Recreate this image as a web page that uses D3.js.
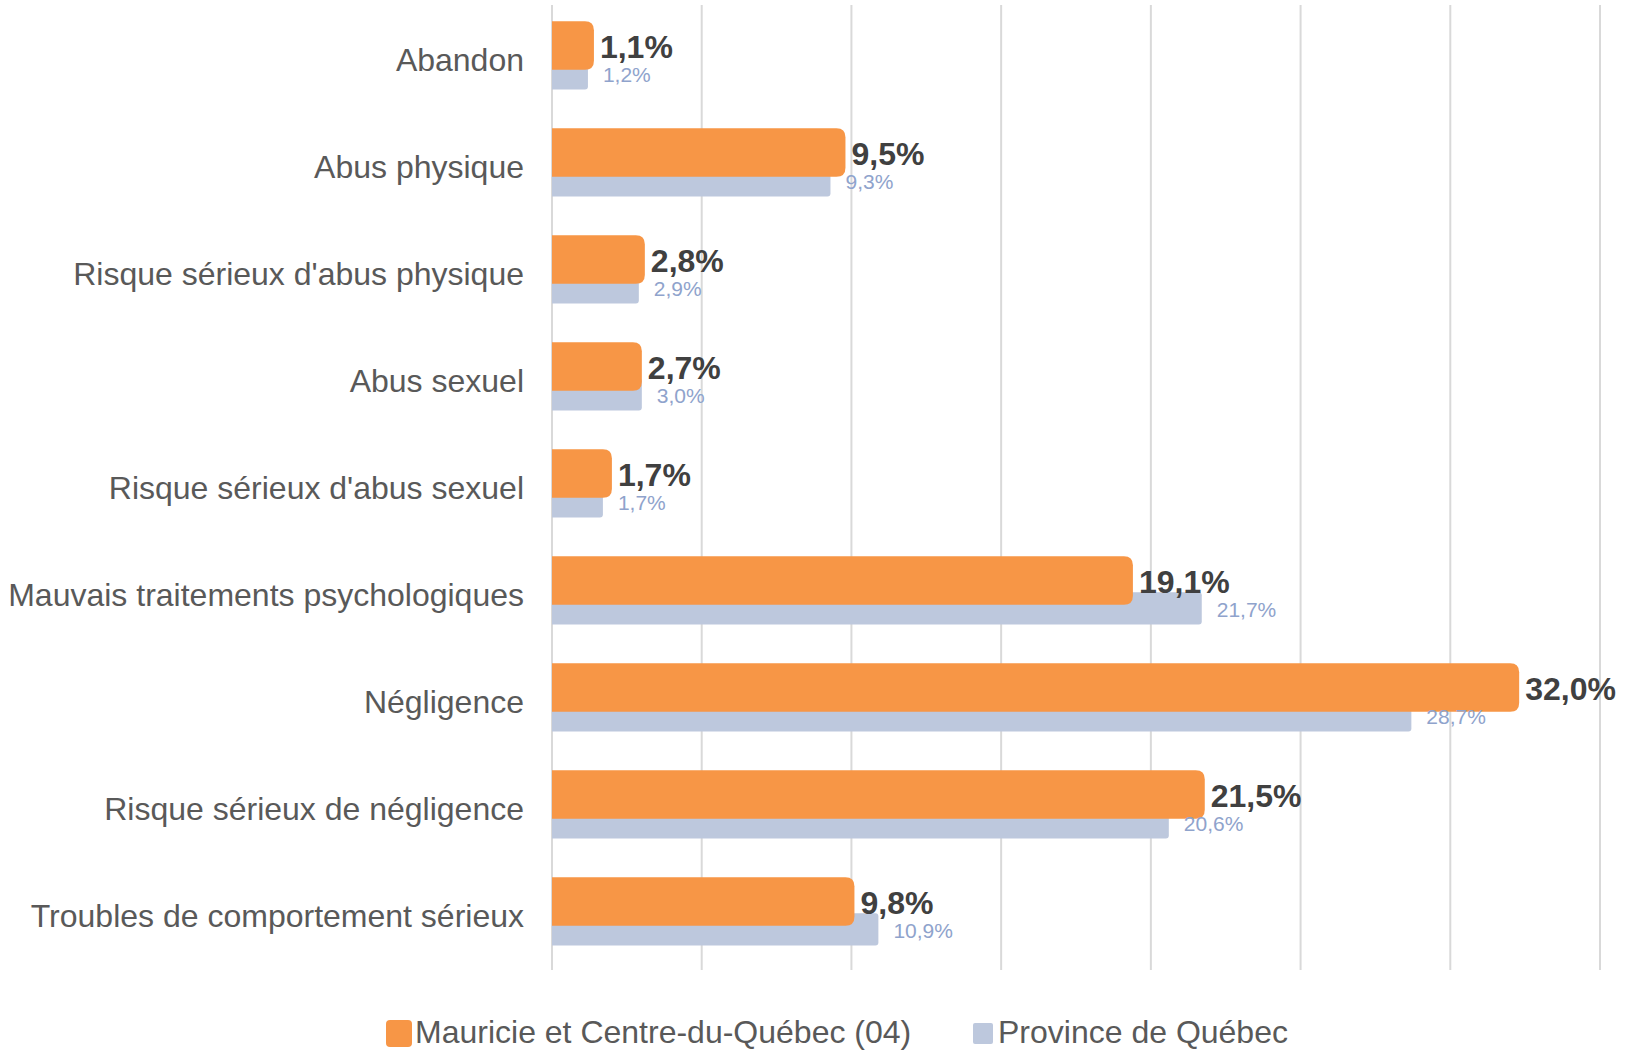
<!doctype html>
<html lang="fr">
<head>
    <meta charset="utf-8">
    <title>Motifs de rétention</title>
    <style>
        body { margin: 0; background: #ffffff; }
        svg { display: block; font-family: "Liberation Sans", Arial, sans-serif; }
    </style>
</head>
<body>
<svg width="1627" height="1050" id="chart"></svg>

<script src="https://cdn.jsdelivr.net/npm/d3@7"></script>
<script>
    const categories = [
        "Abandon",
        "Abus physique",
        "Risque sérieux d'abus physique",
        "Abus sexuel",
        "Risque sérieux d'abus sexuel",
        "Mauvais traitements psychologiques",
        "Négligence",
        "Risque sérieux de négligence",
        "Troubles de comportement sérieux"
    ];
    const mauricieValues = [1.1, 9.5, 2.8, 2.7, 1.7, 19.1, 32.0, 21.5, 9.8];
    const quebecValues = [1.2, 9.3, 2.9, 3.0, 1.7, 21.7, 28.7, 20.6, 10.9];
    const seriesNames = ["Mauricie et Centre-du-Québec (04)", "Province de Québec"];
    const xMax = 35;

    const orange = "#F79646";
    const grey = "#BDC8DD";
    const greyText = "#8FA3CC";
    const ORANGE_EDGE = 9; // the orange shape sticks out a bit past its value

    const svg = d3.select("#chart");
    const margin = {top: 6, right: 27, bottom: 81, left: 552};
    const width = +svg.attr("width") - margin.left - margin.right;
    const height = +svg.attr("height") - margin.top - margin.bottom;

    const x = d3.scaleLinear()
        .domain([0, xMax])
        .range([margin.left, margin.left + width]);

    const y = d3.scaleBand()
        .domain(categories)
        .range([margin.top, margin.top + height]);

    const bw = y.bandwidth();

    // bar with rounded right corners only
    function rightRounded(x0, y0, w, h, r) {
        r = Math.min(r, w, h / 2);
        return "M" + x0 + "," + y0 +
            "H" + (x0 + w - r) +
            "Q" + (x0 + w) + "," + y0 + " " + (x0 + w) + "," + (y0 + r) +
            "V" + (y0 + h - r) +
            "Q" + (x0 + w) + "," + (y0 + h) + " " + (x0 + w - r) + "," + (y0 + h) +
            "H" + x0 + "Z";
    }

    // grid lines
    svg.append("g")
        .selectAll("line")
        .data(x.ticks(7))
        .enter().append("line")
        .attr("x1", d => x(d))
        .attr("x2", d => x(d))
        .attr("y1", margin.top - 1)
        .attr("y2", margin.top + height + 1)
        .style("stroke", "#D9D9D9")
        .style("stroke-width", 2);

    // category labels
    svg.append("g")
        .selectAll("text")
        .data(categories)
        .enter().append("text")
        .attr("x", margin.left - 28)
        .attr("y", d => y(d) + bw / 2)
        .attr("dy", "0.35em")
        .style("text-anchor", "end")
        .style("font-size", "32px")
        .style("fill", "#595959")
        .text(d => d);

    const greyTop = 0.48 * bw, greyH = 0.30 * bw;
    const orangeTop = 0.142 * bw, orangeH = 0.454 * bw;

    // Province de Québec bars (behind)
    svg.append("g")
        .selectAll("path")
        .data(quebecValues)
        .enter().append("path")
        .attr("d", (d, i) => rightRounded(x(0), y(categories[i]) + greyTop, x(d) - x(0), greyH, 3))
        .style("fill", grey);

    // Mauricie bars (front)
    svg.append("g")
        .selectAll("path")
        .data(mauricieValues)
        .enter().append("path")
        .attr("d", (d, i) => rightRounded(x(0), y(categories[i]) + orangeTop, x(d) - x(0) + ORANGE_EDGE, orangeH, 9))
        .style("fill", orange);

    const fmt = v => v.toFixed(1).replace(".", ",") + "%";

    // grey value labels
    svg.append("g")
        .selectAll("text")
        .data(quebecValues)
        .enter().append("text")
        .attr("x", d => x(d) + 15)
        .attr("y", (d, i) => y(categories[i]) + greyTop + greyH / 2 + 1)
        .attr("dy", "0.35em")
        .style("font-size", "21px")
        .style("fill", greyText)
        .text(fmt);

    // orange value labels
    svg.append("g")
        .selectAll("text")
        .data(mauricieValues)
        .enter().append("text")
        .attr("x", d => x(d) + ORANGE_EDGE + 6)
        .attr("y", (d, i) => y(categories[i]) + orangeTop + orangeH / 2 + 1)
        .attr("dy", "0.36em")
        .style("font-size", "32px")
        .style("font-weight", "bold")
        .style("fill", "#404040")
        .text(fmt);

    // legend
    const legend = svg.append("g");
    legend.append("rect")
        .attr("x", 386).attr("y", 1020)
        .attr("width", 26).attr("height", 27)
        .attr("rx", 4)
        .style("fill", orange);
    legend.append("text")
        .attr("x", 415).attr("y", 1043)
        .style("font-size", "32px")
        .style("fill", "#595959")
        .text(seriesNames[0]);
    legend.append("rect")
        .attr("x", 973).attr("y", 1023)
        .attr("width", 20).attr("height", 21)
        .attr("rx", 2)
        .style("fill", grey);
    legend.append("text")
        .attr("x", 998).attr("y", 1043)
        .style("font-size", "32px")
        .style("fill", "#595959")
        .text(seriesNames[1]);
</script>
</body>
</html>
